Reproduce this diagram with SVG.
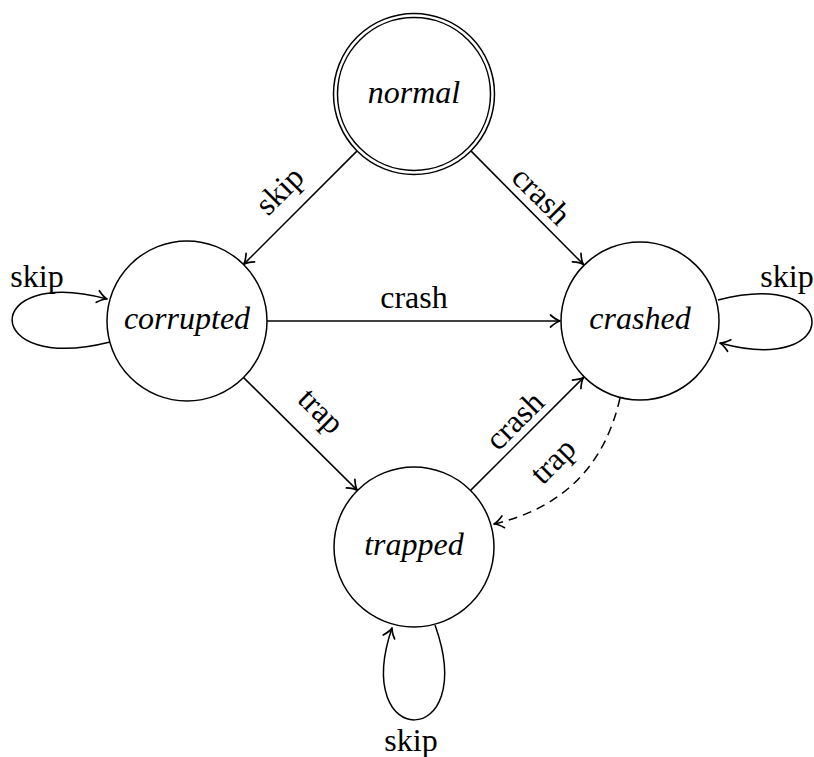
<svg xmlns="http://www.w3.org/2000/svg" width="814" height="757" viewBox="0 0 814 757">
  <style>
    .state { fill: #fff; stroke: #000; stroke-width: 1.5; }
    .name { font-family: "Liberation Serif", serif; font-style: italic; font-size: 32px; text-anchor: middle; fill: #000; }
    .edge { fill: none; stroke: #000; stroke-width: 1.5; marker-end: url(#tip); }
    .dashed { stroke-dasharray: 9 6; }
    .lbl { font-family: "Liberation Serif", serif; font-size: 32px; text-anchor: middle; fill: #000; }
  </style>
  <defs>
    <marker id="tip" markerUnits="userSpaceOnUse" markerWidth="16" markerHeight="16" viewBox="-12 -8 14 16" refX="0" refY="0" orient="auto">
      <path d="M-9.5,-6 C-5.5,-2.4 -2.2,-0.6 0,0 C-2.2,0.6 -5.5,2.4 -9.5,6" fill="none" stroke="#000" stroke-width="1.7" stroke-linecap="round" stroke-linejoin="round"/>
    </marker>
  </defs>

  <!-- transitions -->
  <g id="connectors">
    <path class="edge" d="M357.1,150.9 L243.6,264.4"/>
    <path class="edge" d="M470.9,150.9 L583.4,264.4"/>
    <path class="edge" d="M267,321 L560,321"/>
    <path class="edge" d="M243.6,377.6 L357.4,490.4"/>
    <path class="edge" d="M470.6,490.4 L583.4,377.6"/>
    <path class="edge dashed" d="M620,398 Q597,500 494,524"/>
    <!-- self loops -->
    <path class="edge" d="M110,342 C-20,375 -20,265 107,299"/>
    <path class="edge" d="M718,300 C843,267 843,377 720,343"/>
    <path class="edge" d="M435,625 C480,751 350,751 392,628"/>

    <!-- transition labels -->
    <text class="lbl" transform="translate(282,193) rotate(-45)" x="0" y="7">skip</text>
    <text class="lbl" transform="translate(541,196) rotate(45)" x="0" y="10">crash</text>
    <text class="lbl" x="414" y="308">crash</text>
    <text class="lbl" transform="translate(318,414) rotate(45)" x="0" y="6">trap</text>
    <text class="lbl" transform="translate(515,421) rotate(-45)" x="0" y="10">crash</text>
    <text class="lbl" transform="translate(556,464) rotate(-45)" x="0" y="6">trap</text>
    <text class="lbl" x="37" y="287">skip</text>
    <text class="lbl" x="787" y="287">skip</text>
    <text class="lbl" x="411" y="751">skip</text>
  </g>

  <!-- states -->
  <g id="normal">
    <circle class="state" cx="414" cy="94" r="80.5"/>
    <circle class="state" cx="414" cy="94" r="76.5"/>
    <text class="name" x="414" y="103">normal</text>
  </g>
  <g id="corrupted">
    <circle class="state" cx="187" cy="321" r="80"/>
    <text class="name" x="187" y="329">corrupted</text>
  </g>
  <g id="crashed">
    <circle class="state" cx="640" cy="321" r="79"/>
    <text class="name" x="640" y="329">crashed</text>
  </g>
  <g id="trapped">
    <circle class="state" cx="414" cy="547" r="80"/>
    <text class="name" x="414" y="555">trapped</text>
  </g>
</svg>
